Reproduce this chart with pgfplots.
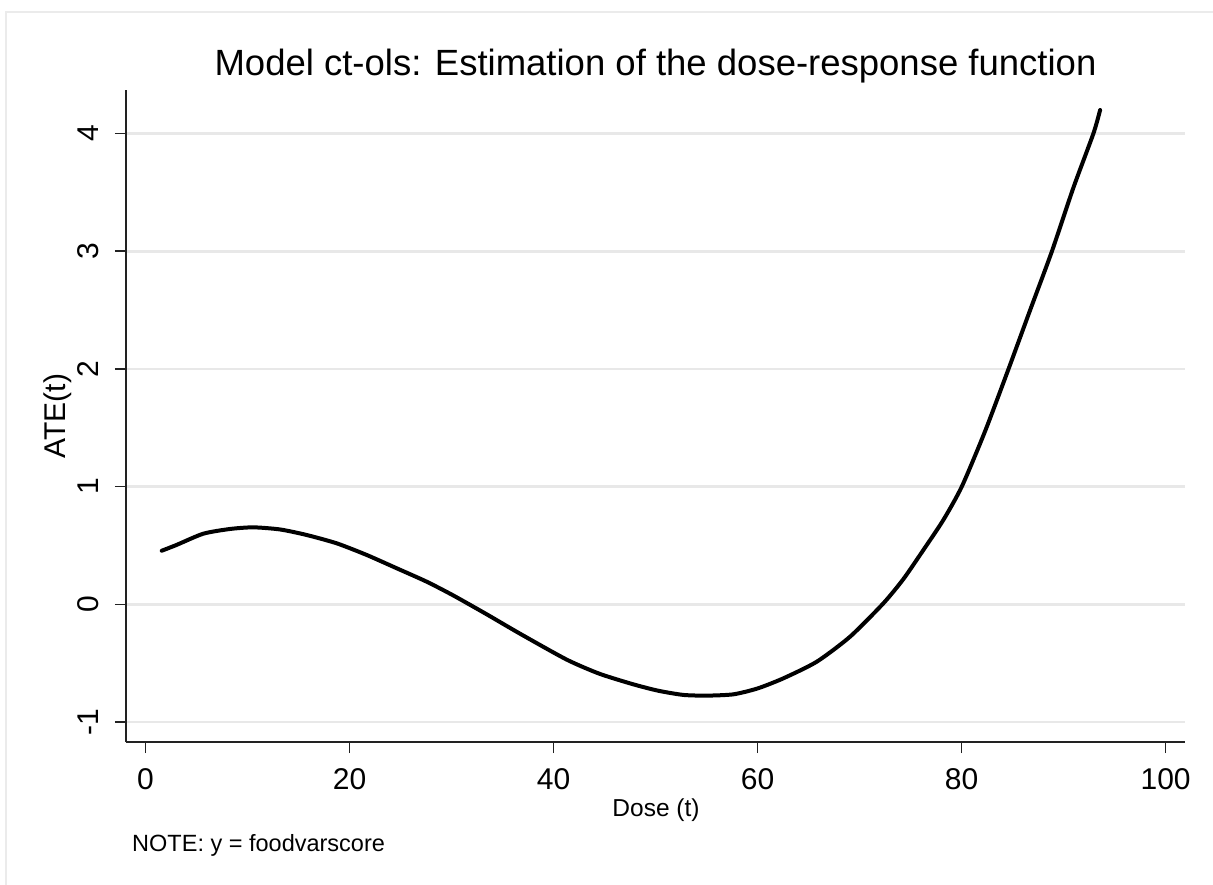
\documentclass[border=0pt]{standalone}
\usepackage{pgfplots}
\pgfplotsset{compat=1.18}
\usepackage{fontspec}
\setmainfont{Liberation Sans}
\definecolor{gridgray}{HTML}{E8E8E8}
\definecolor{framegray}{HTML}{EBEBEB}
\definecolor{axisgray}{HTML}{222222}
\begin{document}
\begin{tikzpicture}
\fill[white] (0,0) rectangle (1213pt,884pt);
\draw[framegray, line width=2pt] (6pt,-10pt) -- (6pt,872pt) -- (1225pt,872pt);
\begin{axis}[
  at={(126pt,142pt)}, anchor=south west,
  scale only axis, width=1059pt, height=652pt,
  xmin=-1.91, xmax=101.9, ymin=-1.17, ymax=4.37,
  axis x line*=bottom, axis y line*=left,
  axis line style={axisgray, line width=1.5pt},
  tick align=outside, major tick length=11pt,
  tick style={axisgray, line width=1.5pt},
  xtick={0,20,40,60,80,100}, xticklabels={0,20,40,60,80,100},
  ytick={-1,0,1,2,3,4}, yticklabels={-1,0,1,2,3,4},
  minor tick num=0,
  ymajorgrids, xmajorgrids=false,
  grid style={gridgray, line width=2.6pt},
  xticklabel style={font=\fontsize{30pt}{32pt}\selectfont, anchor=base, yshift=-36pt, inner sep=0pt},
  yticklabel style={font=\fontsize{30pt}{32pt}\selectfont, rotate=90, anchor=base, yshift=16pt, inner sep=0pt},
  title={Model ct-ols: Estimation of the dose-response function},
  title style={font=\fontsize{36.5pt}{40pt}\selectfont, at={(axis description cs:0.5,1.0123)}, anchor=base, inner sep=0pt},
  xlabel={Dose (t)},
  xlabel style={font=\fontsize{24.5pt}{28pt}\selectfont, at={(axis description cs:0.5005,-0.1135)}, anchor=base, inner sep=0pt},
  ylabel={ATE(t)},
  ylabel style={font=\fontsize{30pt}{32pt}\selectfont, at={(axis description cs:-0.0567,0.5)}, anchor=base, rotate=0, inner sep=0pt},
  clip=false,
]
\addplot[black, line width=4pt, line join=round, line cap=round, smooth, tension=0.4] coordinates {
(1.59,0.455) (3.06,0.505) (5.67,0.600) (8.28,0.640) (10.57,0.654) (13.19,0.636) (15.80,0.589)
(18.75,0.518) (21.69,0.419) (24.63,0.306) (27.57,0.192) (30.18,0.075) (33.45,-0.085)
(36.72,-0.250) (41.29,-0.470) (44.5,-0.590) (47.82,-0.680) (50.3,-0.735) (52.73,-0.770)
(55.02,-0.776) (57.63,-0.765) (60.0,-0.715) (62.53,-0.629) (65.80,-0.488) (69.07,-0.275)
(72.33,0.008) (74.3,0.215) (76.25,0.461) (78.2,0.715) (80.02,1.000) (82.3,1.470)
(84.59,1.997) (86.72,2.500) (88.84,2.996) (90.96,3.540) (92.92,4.000) (93.58,4.200)
};
\node[anchor=base west, inner sep=0pt, font=\fontsize{23.5pt}{26pt}\selectfont] at (axis description cs:0.0057,-0.1687) {NOTE: y = foodvarscore};
\end{axis}
\pgfresetboundingbox
\path[use as bounding box] (0,0) rectangle (1213pt,884pt);
\end{tikzpicture}
\end{document}
